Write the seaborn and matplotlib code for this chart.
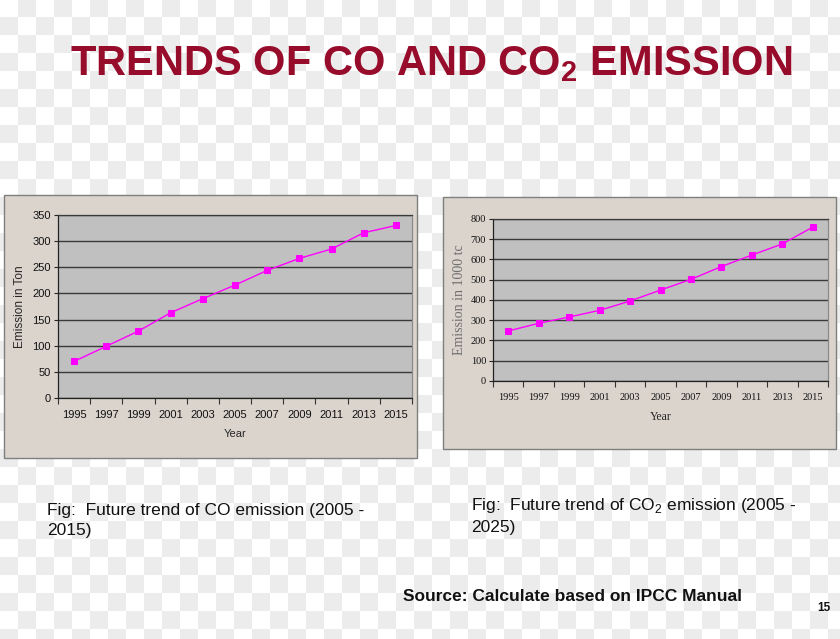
import numpy as np
import seaborn as sns
import matplotlib.pyplot as plt
from matplotlib.patches import Rectangle

years = ['1995', '1997', '1999', '2001', '2003', '2005', '2007', '2009', '2011', '2013', '2015']
co_ton = [70, 99, 128, 163, 190, 216, 244, 267, 285, 316, 330]
co2_kt = [247, 285, 316, 349, 395, 449, 502, 565, 622, 677, 760]
co_yticks = [0, 50, 100, 150, 200, 250, 300, 350]
co2_yticks = [0, 100, 200, 300, 400, 500, 600, 700, 800]

sns.set_theme(style="ticks")
plt.rcParams['font.family'] = ['Liberation Sans', 'DejaVu Sans']
plt.rcParams['mathtext.fontset'] = 'custom'
plt.rcParams['mathtext.rm'] = 'Liberation Sans'
plt.rcParams['mathtext.bf'] = 'Liberation Sans:bold'

W, H = 840, 639
fig = plt.figure(figsize=(W / 100, H / 100), dpi=100)


def fx(px):
    return px / W


def fy(py):
    return 1 - py / H


# checkered page background
bg = fig.add_axes([0, 0, 1, 1], zorder=-10)
yy, xx = np.indices((H, W))
board = ((xx // 18) + ((yy + 1) // 18)) % 2
bg.imshow(board, cmap=plt.matplotlib.colors.ListedColormap(['#ffffff', '#ececec']),
          extent=(0, W, H, 0), interpolation='nearest', aspect='auto')
bg.set_axis_off()

# chart panels
panel_col = '#dbd4cd'
fig.patches.append(Rectangle((fx(4), fy(458)), fx(413), 263 / H, transform=fig.transFigure,
                             facecolor=panel_col, edgecolor='#7f7f7f', lw=1, zorder=-5))
fig.patches.append(Rectangle((fx(443), fy(449)), fx(393), 252 / H, transform=fig.transFigure,
                             facecolor=panel_col, edgecolor='#7f7f7f', lw=1, zorder=-5))

line_kw = dict(color='#ff00ff', markers='s', errorbar=None, markersize=4.5,
               linewidth=1.0, markeredgecolor='#ff00ff')


def style_axis(ax, yticks, fam, tsize):
    ax.set_facecolor('#c0c0c0')
    ax.set_ylim(yticks[0], yticks[-1])
    ax.set_yticks(yticks)
    ax.yaxis.grid(True, color='#3a3a3a', lw=1)
    ax.set_axisbelow(True)
    ax.set_xticks(np.arange(-0.5, len(years), 1), minor=True)
    ax.tick_params(axis='x', which='major', length=0, pad=9)
    ax.tick_params(axis='x', which='minor', length=4, width=0.8, color='#333333')
    ax.tick_params(axis='y', length=3, width=0.8, pad=2)
    for lab in ax.get_xticklabels() + ax.get_yticklabels():
        lab.set_family(fam)
        lab.set_fontsize(tsize)
        lab.set_color('#111111')
    ax.spines['left'].set_color('#222222')
    ax.spines['bottom'].set_color('#222222')
    ax.spines['right'].set_color('#8a8a8a')
    ax.spines['top'].set_color('#3a3a3a')
    for s in ax.spines.values():
        s.set_visible(True)
        s.set_linewidth(0.9)


# CO chart
ax1 = fig.add_axes([fx(58), fy(398), fx(354), 183 / H])
sns.pointplot(x=years, y=co_ton, ax=ax1, **line_kw)
style_axis(ax1, co_yticks, ['Liberation Sans'], 8)
ax1.set_xlim(-0.5, len(years) - 0.5)
ax1.set_xlabel('Year', fontsize=8, family=['Liberation Sans'], labelpad=6)
ax1.set_ylabel('Emission in Ton', fontsize=8.5, family=['Liberation Sans'], labelpad=5)

# CO2 chart
ax2 = fig.add_axes([fx(493), fy(381), fx(335), 162 / H])
sns.pointplot(x=years, y=co2_kt, ax=ax2, **line_kw)
style_axis(ax2, co2_yticks, ['Liberation Serif'], 7.5)
ax2.set_xlim(-0.5, len(years) - 0.5)
ax2.set_xlabel('Year', fontsize=8.5, family=['Liberation Serif'], labelpad=6)
ax2.set_ylabel('Emission in 1000 tc', fontsize=10, family=['Liberation Serif'],
               color='#6e6e6e', labelpad=3)

# slide texts
fig.text(fx(431), fy(75), 'TRENDS OF CO AND CO$_\\mathbf{2}$ EMISSION', ha='center',
         va='baseline', fontsize=30, fontweight='bold', color='#970b2b')
fig.text(fx(47), fy(503), 'Fig:  Future trend of CO emission (2005 -\n2015)',
         ha='left', va='top', fontsize=12.5, color='#111111', linespacing=1.4)
fig.text(fx(471), fy(496), 'Fig:  Future trend of CO$_2$ emission (2005 -\n2025)',
         ha='left', va='top', fontsize=12.5, color='#111111', linespacing=1.4)
fig.text(fx(403), fy(601), 'Source: Calculate based on IPCC Manual', ha='left',
         va='baseline', fontsize=12.5, fontweight='bold', color='#111111')
fig.text(fx(830), fy(611), '15', ha='right', va='baseline', fontsize=8.5,
         fontweight='bold', color='#111111')

fig.savefig('out.png', dpi=100)
